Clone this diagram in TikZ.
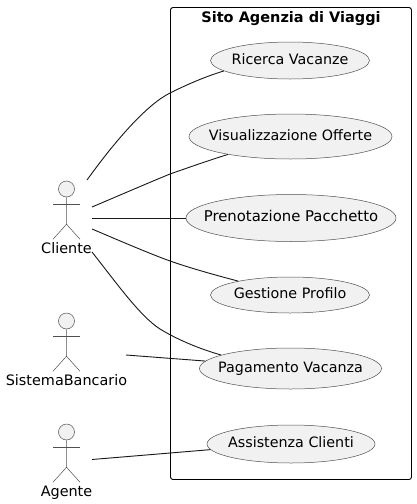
\documentclass[tikz,border=0pt]{standalone}
\usepackage{fontspec}
\setmainfont{DejaVu Sans}
\usetikzlibrary{shapes.geometric,calc}
\definecolor{ucfill}{HTML}{F1F1F1}
\definecolor{ucline}{HTML}{181818}
\definecolor{thinline}{HTML}{505050}
\newcommand{\uctext}[2][14.3]{\makebox[0pt][c]{\smash{\raisebox{-3.7pt}{\fontsize{#1}{16}\selectfont #2}}}}
\tikzset{
  usecase/.style={ellipse,draw=thinline,line width=0.5pt,fill=ucfill,inner sep=0pt},
  actorhead/.style={circle,draw=thinline,line width=0.5pt,fill=ucfill,inner sep=0pt,minimum size=16pt},
  actorline/.style={draw=thinline,line width=0.5pt},
  actorlabel/.style={font=\fontsize{14.4}{16}\selectfont,text=black,inner sep=0pt,anchor=base},
  link/.style={draw=ucline,line width=0.9pt},
  sysbox/.style={draw=black,line width=0.9pt,rounded corners=2.5pt},
}
\newcommand{\umlactor}[4]{% name, x, head y, label
  \node[actorhead] (#1head) at (#2,#3) {};
  \draw[actorline] (#1head.south) -- ++(0,27) coordinate (#1hip)
     -- ++(-13.5,15) (#1hip) -- ++(13.5,15);
  \draw[actorline] ($(#1head.south)+(-13.5,7)$) -- ++(27,0);
  \node[actorlabel] (#1) at (#2,#3+64.5) {#4};
}
\begin{document}
\begin{tikzpicture}[x=1pt,y=-1pt]
\useasboundingbox (0,0) rectangle (416,504);
\fill[white] (0,0) rectangle (416,504);

\draw[sysbox] (170.5,7.5) rectangle (411.5,479.5);
\node[font=\fontsize{14.5}{16}\selectfont\bfseries,inner sep=0pt,anchor=base] (systitle) at (291,22) {Sito Agenzia di Viaggi};

\node[usecase,minimum width=159pt,minimum height=37pt] (uca) at (290,60.5) {\uctext{Ricerca Vacanze}};
\node[usecase,minimum width=203pt,minimum height=45pt] (ucb) at (290.5,136.5) {\uctext{Visualizzazione Offerte}};
\node[usecase,minimum width=210pt,minimum height=47pt] (ucc) at (291,218) {\uctext[14.85]{Prenotazione Pacchetto}};
\node[usecase,minimum width=159pt,minimum height=36pt] (ucd) at (290,295) {\uctext{Gestione Profilo}};
\node[usecase,minimum width=182pt,minimum height=41pt] (uce) at (290.5,368.5) {\uctext{Pagamento Vacanza}};
\node[usecase,minimum width=168pt,minimum height=38pt] (ucf) at (291,444) {\uctext{Assistenza Clienti}};

\umlactor{cliente}{66.5}{189}{Cliente}
\umlactor{banca}{66.5}{321}{SistemaBancario}
\umlactor{agente}{66.5}{432}{Agente}

\coordinate (c1) at (87,180);
\coordinate (c2) at (92,207);
\coordinate (c3) at (92,218);
\coordinate (c4) at (92,229);
\coordinate (c5) at (92,252);
\coordinate (b1) at (126,355);
\coordinate (a1) at (92,459.5);

\draw[link] (c1) .. controls (118,137) and (148,104) .. (170,93) .. controls (188,84) and (207,76) .. (uca.189);
\draw[link] (c2) .. controls (118,196) and (148,183) .. (170,174) .. controls (190,167) and (210,160) .. (ucb.196);
\draw[link] (c3) -- (ucc.180);
\draw[link] (c4) .. controls (118,240) and (148,253) .. (170,261) .. controls (190,268) and (215,275) .. (ucd.165);
\draw[link] (c5) .. controls (118,285) and (140,316) .. (160,329) .. controls (178,340) and (200,349) .. (uce.169);
\draw[link] (b1) -- (uce.175.7);
\draw[link] (a1) -- (ucf.184.3);
\end{tikzpicture}
\end{document}
